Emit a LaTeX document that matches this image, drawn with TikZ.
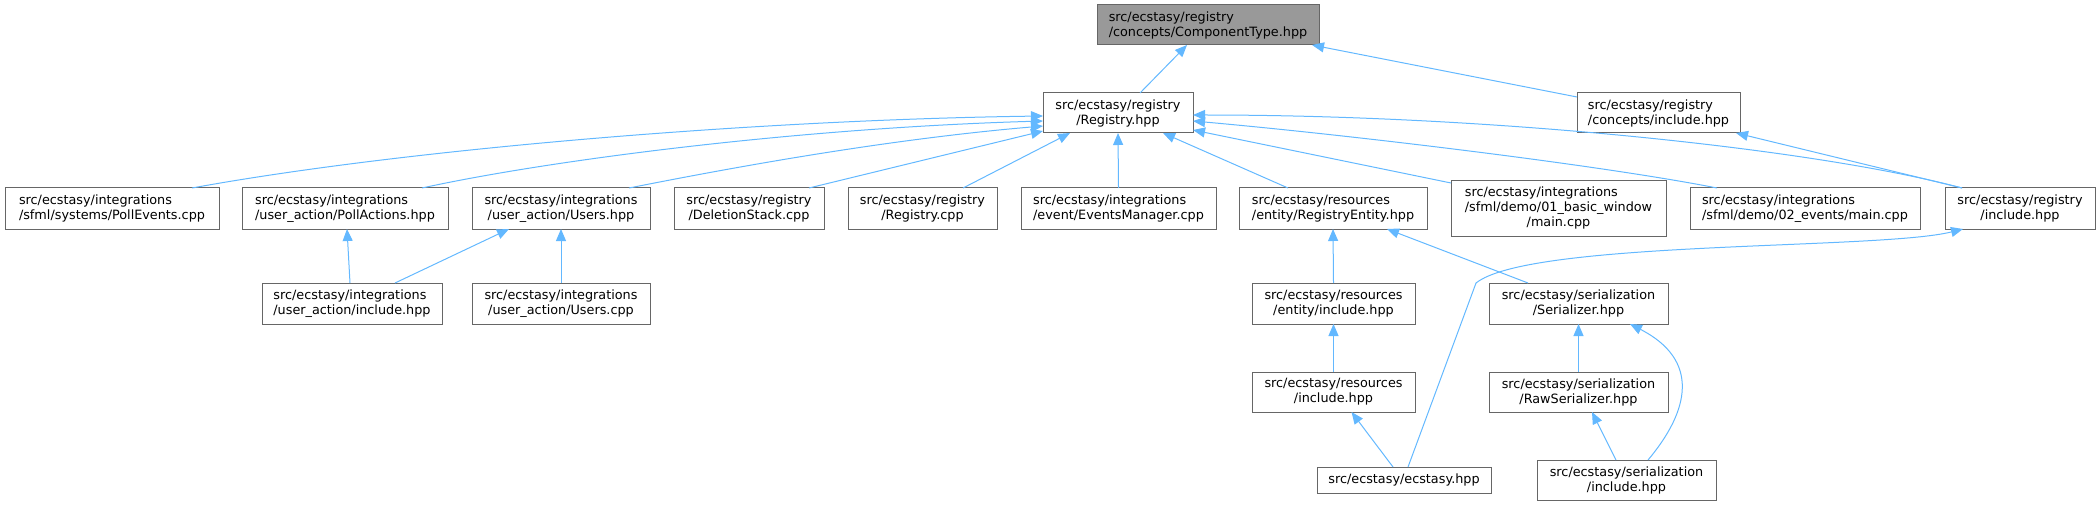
\documentclass[tikz,border=0pt]{standalone}
\usepackage{fontspec}
\setmainfont{DejaVu Sans}
\usetikzlibrary{arrows.meta}
\definecolor{edgeblue}{HTML}{63B8FF}
\definecolor{boxline}{HTML}{666666}
\definecolor{rootfill}{HTML}{999999}

\begin{document}
\begin{tikzpicture}[x=1pt,y=-1pt,>={Triangle[length=12pt,width=10pt]},
  font=\fontsize{12.8}{15}\selectfont,
  file/.style={draw=boxline,fill=white,line width=1pt,inner sep=0pt,outer sep=0pt},
  root/.style={file,fill=rootfill},
  dep/.style={->,draw=edgeblue,line width=1pt}]
\useasboundingbox (0,0) rectangle (2100,505);
\node[root,minimum width=222pt,minimum height=40pt,align=left] (ct) at (1208,25) {src/ecstasy/registry\\/concepts/ComponentType.hpp};
\foreach \nm/\cx/\cy/\bw/\bh/\aln/\txt in {
  reg/1118/113/150/40/center/{src/ecstasy/registry\\/Registry.hpp},
  cinc/1658.5/113/163/40/left/{src/ecstasy/registry\\/concepts/include.hpp},
  pollev/112/208.5/214/41/left/{src/ecstasy/integrations\\/sfml/systems/PollEvents.cpp},
  pollact/345/208.5/206/41/left/{src/ecstasy/integrations\\/user\_action/PollActions.hpp},
  usershpp/561/208.5/178/41/center/{src/ecstasy/integrations\\/user\_action/Users.hpp},
  delst/749/208.5/150/41/center/{src/ecstasy/registry\\/DeletionStack.cpp},
  regcpp/922.5/208.5/149/41/center/{src/ecstasy/registry\\/Registry.cpp},
  evmgr/1118.5/208.5/195/41/left/{src/ecstasy/integrations\\/event/EventsManager.cpp},
  regent/1333/208.5/188/41/left/{src/ecstasy/resources\\/entity/RegistryEntity.hpp},
  events/1805/208.5/230/41/left/{src/ecstasy/integrations\\/sfml/demo/02\_events/main.cpp},
  reginc/2020/208.5/150/41/center/{src/ecstasy/registry\\/include.hpp},
  uainc/352/303.5/180/41/left/{src/ecstasy/integrations\\/user\_action/include.hpp},
  userscpp/561/303.5/178/41/center/{src/ecstasy/integrations\\/user\_action/Users.cpp},
  entinc/1333.5/303.5/163/41/center/{src/ecstasy/resources\\/entity/include.hpp},
  ser/1578.5/303.5/179/41/center/{src/ecstasy/serialization\\/Serializer.hpp},
  resinc/1333.5/392/163/40/center/{src/ecstasy/resources\\/include.hpp},
  rawser/1578.5/392/179/40/center/{src/ecstasy/serialization\\/RawSerializer.hpp},
  ecs/1404/480/174/26/center/{src/ecstasy/ecstasy.hpp},
  serinc/1626.5/480/179/40/center/{src/ecstasy/serialization\\/include.hpp}%
}{
  \node[file,minimum width=\bw pt,minimum height=\bh pt,align=\aln] (\nm) at (\cx,\cy) {\txt};
}
\node[file,minimum width=215pt,minimum height=55pt] (basicwin) at (1558.5,208.5)
  {\begin{tabular}{@{}l@{}}src/ecstasy/integrations\\/sfml/demo/01\_basic\_window\\\multicolumn{1}{@{}c@{}}{/main.cpp}\end{tabular}};
\coordinate (ecsbend) at (1476,283);

\draw[dep] ([xshift=22pt]reg.north) -- ([xshift=-21pt]ct.south);
\draw[dep] ([yshift=-4pt]cinc.north west) -- ([xshift=104pt]ct.south);
\draw[dep] ([xshift=80pt]pollev.north) .. controls +(208,-38) and +(-294,4) .. ([yshift=-3pt]reg.west);
\draw[dep] ([xshift=77pt]pollact.north) .. controls +(128,-28) and +(-244,7) .. ([yshift=-8pt]reg.west);
\draw[dep] ([xshift=68pt]usershpp.north) .. controls +(91,-18) and +(-164,14) .. ([yshift=-13pt]reg.west);
\draw[dep] ([xshift=60pt]delst.north) -- ([yshift=-18pt]reg.west);
\draw[dep] ([xshift=40.5pt]regcpp.north) -- ([xshift=-48pt]reg.south);
\draw[dep] (evmgr.north) -- (reg.south);
\draw[dep] ([xshift=-45pt]regent.north) -- ([xshift=45pt]reg.south);
\draw[dep] ([yshift=-2pt]basicwin.north west) -- ([yshift=-17pt]reg.east);
\draw[dep] ([xshift=-88pt]events.north) .. controls +(-117,-23) and +(157,14) .. ([yshift=-8pt]reg.east);
\draw[dep] ([xshift=-58pt]reginc.north) .. controls +(-142,-38) and +(307,0) .. ([yshift=-2pt]reg.east);
\draw[dep] ([xshift=-58pt]reginc.north) -- ([xshift=-4pt]cinc.south east);
\draw[dep] ([xshift=-2pt]uainc.north) -- ([xshift=2pt]pollact.south);
\draw[dep] ([xshift=43pt]uainc.north) -- ([xshift=-52pt]usershpp.south);
\draw[dep] (userscpp.north) -- (usershpp.south);
\draw[dep] (entinc.north) -- (regent.south);
\draw[dep] ([xshift=-50.5pt]ser.north) -- ([xshift=54pt]regent.south);
\draw[dep] (resinc.north) -- (entinc.south);
\draw[dep] ([xshift=-11pt]ecs.north) -- ([xshift=18pt]resinc.south);
\draw[dep] ([xshift=4pt]ecs.north) -- (ecsbend) .. controls +(54,-43) and +(-83,21) .. ([xshift=-57pt]reginc.south);
\draw[dep] (rawser.north) -- (ser.south);
\draw[dep] ([xshift=-10.5pt]serinc.north) -- ([xshift=13.5pt]rawser.south);
\draw[dep] ([xshift=21.5pt]serinc.north) .. controls +(42,-50) and +(70,36) .. ([xshift=51.5pt]ser.south);
\end{tikzpicture}
\end{document}
